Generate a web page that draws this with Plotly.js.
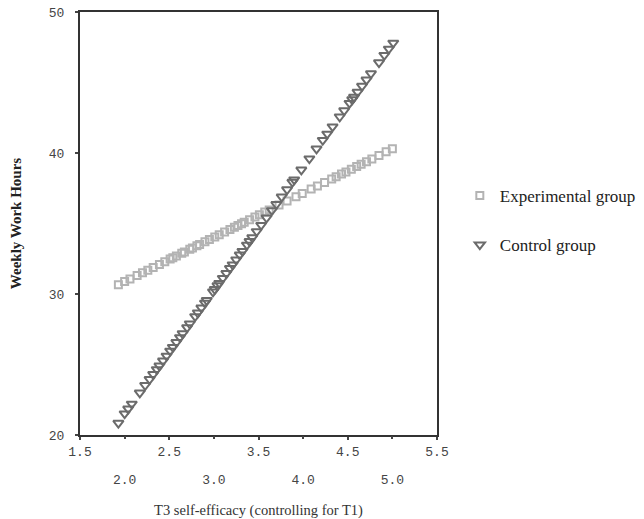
<!DOCTYPE html>
<html>
<head>
<meta charset="utf-8">
<script src="https://cdn.plot.ly/plotly-3.0.1.min.js"></script>
<style>html,body{margin:0;padding:0;background:#fff;}#chart{width:644px;height:519px;}</style>
</head>
<body>
<div id="chart"></div>
<script>
// Experimental group (squares)
const expX = [1.93,2.00,2.06,2.14,2.20,2.26,2.32,2.39,2.45,2.51,2.54,2.58,2.64,2.67,2.73,2.76,2.81,2.84,2.90,2.95,3.01,3.06,3.12,3.18,3.23,3.27,3.31,3.34,3.40,3.46,3.51,3.57,3.62,3.73,3.82,3.92,3.99,4.09,4.16,4.24,4.32,4.37,4.43,4.48,4.54,4.60,4.65,4.71,4.77,4.85,4.93,5.00];
const expY = [30.66,30.88,31.06,31.32,31.50,31.69,31.88,32.10,32.29,32.48,32.57,32.70,32.89,32.98,33.17,33.26,33.42,33.51,33.70,33.86,34.05,34.20,34.39,34.58,34.74,34.86,34.99,35.08,35.27,35.46,35.62,35.81,35.96,36.31,36.59,36.90,37.12,37.44,37.66,37.91,38.16,38.32,38.51,38.66,38.85,39.04,39.20,39.38,39.57,39.82,40.08,40.30];
// Control group (triangles)
const ctlX = [1.93,2.00,2.04,2.08,2.17,2.23,2.28,2.32,2.36,2.39,2.43,2.47,2.51,2.54,2.58,2.62,2.65,2.70,2.73,2.79,2.82,2.86,2.90,2.92,2.99,3.01,3.04,3.06,3.10,3.14,3.18,3.21,3.25,3.29,3.32,3.37,3.40,3.43,3.48,3.53,3.59,3.65,3.70,3.76,3.82,3.88,3.90,3.98,4.07,4.15,4.22,4.27,4.33,4.41,4.46,4.52,4.55,4.57,4.61,4.66,4.71,4.76,4.85,4.91,4.96,5.01];
const ctlY = [20.85,21.51,21.86,22.20,22.99,23.52,23.95,24.30,24.65,24.91,25.26,25.61,25.96,26.23,26.57,26.92,27.19,27.62,27.89,28.41,28.67,29.02,29.37,29.55,30.16,30.33,30.60,30.77,31.12,31.47,31.82,32.08,32.43,32.78,33.04,33.48,33.74,34.00,34.44,34.88,35.40,35.93,36.36,36.89,37.41,37.94,38.11,38.81,39.60,40.30,40.91,41.35,41.87,42.57,43.01,43.53,43.79,43.97,44.32,44.75,45.19,45.63,46.41,46.94,47.38,47.81];

const xTickRow1 = [1.5,2.5,3.5,4.5,5.5];
const xTickRow1Text = ['1.5','2.5','3.5','4.5','5.5'];
const xTickRow2 = [2.0,3.0,4.0,5.0];
const xTickRow2Text = ['2.0','3.0','4.0','5.0'];
const yTicks = [20,30,40,50];
const yTickText = ['20','30','40','50'];

const mono = {family: '"Liberation Mono", "DejaVu Sans Mono", monospace', size: 13, color: '#444'};
const serif = '"Liberation Serif", "Times New Roman", serif';

const traces = [
  {x: expX, y: expY, type: 'scatter', mode: 'markers', name: 'Experimental group',
   legendgroup: 'a',
   marker: {symbol: 'square-open', size: 7, color: '#b3b3b3', line: {width: 2, color: '#b3b3b3'}}},
  {x: ctlX, y: ctlY, type: 'scatter', mode: 'markers', name: 'Control group',
   legendgroup: 'b',
   marker: {symbol: 'triangle-down-open', size: 9, color: '#6b6b6b', line: {width: 2, color: '#6b6b6b'}}},
  {x: [], y: [], xaxis: 'x2', yaxis: 'y', type: 'scatter', mode: 'markers', showlegend: false, hoverinfo: 'skip'}
];

const layout = {
  width: 644, height: 519,
  margin: {l: 80, r: 207, t: 12, b: 84, autoexpand: false},
  paper_bgcolor: '#fff', plot_bgcolor: '#fff',
  showlegend: true,
  legend: {xref: 'container', yref: 'container', x: 0.714, y: 0.657, xanchor: 'left', yanchor: 'top',
           traceorder: 'grouped', tracegroupgap: 24,
           font: {family: serif, size: 17, color: '#222'}, bgcolor: 'rgba(0,0,0,0)', itemwidth: 30},
  xaxis: {range: [1.5, 5.5], tickmode: 'array', tickvals: xTickRow1, ticktext: xTickRow1Text,
          showgrid: false, zeroline: false, showline: true, linecolor: '#333', linewidth: 2, mirror: true,
          ticks: 'outside', ticklen: 3, tickwidth: 2, tickcolor: '#444', tickfont: mono,
          title: {text: 'T3 self-efficacy (controlling for T1)', font: {family: serif, size: 14.5, color: '#333'}, standoff: 46}},
  xaxis2: {range: [1.5, 5.5], overlaying: 'x', anchor: 'y', side: 'bottom', matches: 'x',
           tickmode: 'array', tickvals: xTickRow2, ticktext: xTickRow2Text,
           showgrid: false, zeroline: false, showline: false,
           ticks: 'outside', ticklen: 3, tickwidth: 2, tickcolor: '#444', tickfont: mono,
           ticklabelstandoff: 29},
  yaxis: {range: [20, 50], tickmode: 'array', tickvals: yTicks, ticktext: yTickText,
          showgrid: false, zeroline: false, showline: true, linecolor: '#333', linewidth: 2, mirror: true,
          ticks: 'outside', ticklen: 3, tickwidth: 2, tickcolor: '#444', tickfont: mono,
          ticklabelstandoff: 8,
          title: {text: '<b>Weekly Work Hours</b>', font: {family: serif, size: 15, color: '#222'}, standoff: 24}}
};

Plotly.newPlot('chart', traces, layout, {displayModeBar: false, staticPlot: true});
</script>
</body>
</html>
